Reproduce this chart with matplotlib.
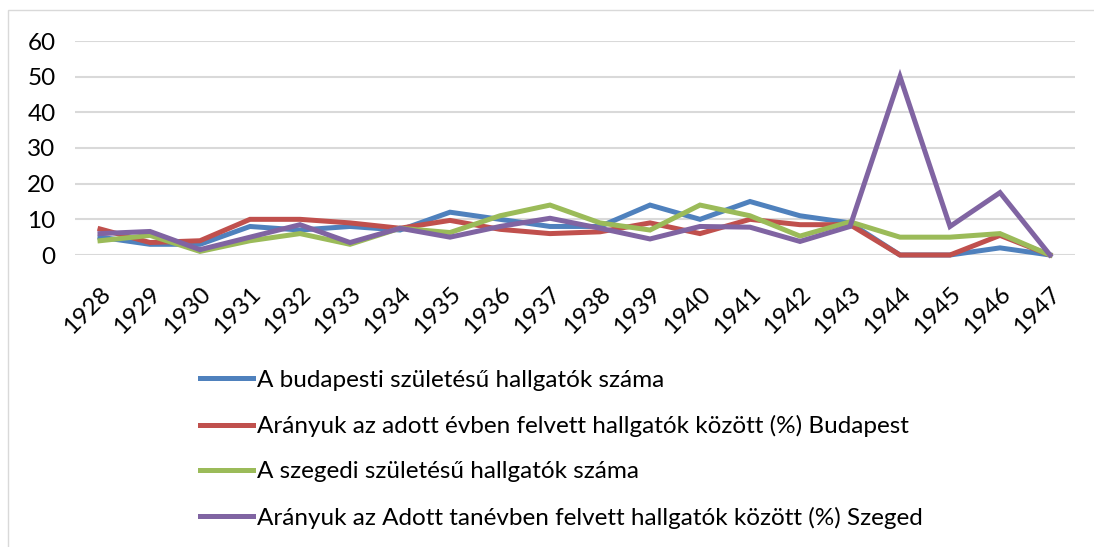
import matplotlib
matplotlib.use("Agg")
import matplotlib.pyplot as plt
from matplotlib.patches import Rectangle

plt.rcParams['font.family'] = ['Lato', 'DejaVu Sans']

evek = [str(e) for e in range(1928, 1948)]

bp_szam = [5, 3, 3, 8, 7, 8, 7, 12, 10, 8, 8, 14, 10, 15, 11, 9, 0, 0, 2, 0]
bp_arany = [7.3, 3.5, 4, 10, 10, 9, 7.5, 9.7, 7.2, 6, 6.5, 9, 6, 10, 8.5, 8.5, 0, 0, 5.5, 0]
szeged_szam = [4, 5.5, 1, 4, 6, 3, 7.5, 6.3, 11, 14, 9, 7, 14, 11, 5.3, 9.3, 5, 5, 6, 0]
szeged_arany = [6, 6.6, 1.5, 5, 8.5, 3.5, 7.5, 5, 8, 10.3, 7.5, 4.5, 8, 7.8, 3.8, 8, 50, 8, 17.5, 0]

sorozatok = [
    (bp_szam, "A budapesti születésű hallgatók száma", "#4F81BD"),
    (bp_arany, "Arányuk az adott évben felvett hallgatók között (%) Budapest", "#C0504D"),
    (szeged_szam, "A szegedi születésű hallgatók száma", "#9BBB59"),
    (szeged_arany, "Arányuk az Adott tanévben felvett hallgatók között (%) Szeged", "#8064A2"),
]

W, H = 1094, 547
fig = plt.figure(figsize=(W / 100, H / 100), dpi=100)
ax = fig.add_axes([75 / W, 1 - 255 / H, 1000 / W, 214 / H])

# keret a diagram körül
fig.patches.append(Rectangle((8 / W, -0.1), 1.2, 1 - 10 / H + 0.1, transform=fig.transFigure,
                             fill=False, edgecolor="#D9D9D9", linewidth=1))

x = list(range(len(evek)))
vonalak = []
for ertekek, nev, szin in sorozatok:
    l, = ax.plot(x, ertekek, color=szin, linewidth=3.6, label=nev,
                 solid_joinstyle='miter', clip_on=False, zorder=3)
    vonalak.append(l)

ax.set_xlim(-0.5, len(evek) - 0.5)
ax.set_ylim(0, 60)
ax.set_yticks(range(0, 61, 10))
ax.set_xticks(x)
ax.set_xticklabels(evek, rotation=45, ha='right', va='top', rotation_mode='anchor')
ax.tick_params(axis='both', length=0, labelsize=17.5, colors='black')
ax.tick_params(axis='y', pad=14)
ax.tick_params(axis='x', pad=20)
ax.grid(axis='y', color='#D9D9D9', linewidth=1.5)
ax.set_axisbelow(True)
for s in ax.spines.values():
    s.set_visible(False)

fig.legend(handles=vonalak, loc='upper left', bbox_to_anchor=(190 / W, 1 - 360 / H),
           frameon=False, fontsize=17.5, handlelength=2.2, handletextpad=0.15,
           labelspacing=1.0, borderaxespad=0)

fig.savefig("out.png", dpi=100)
